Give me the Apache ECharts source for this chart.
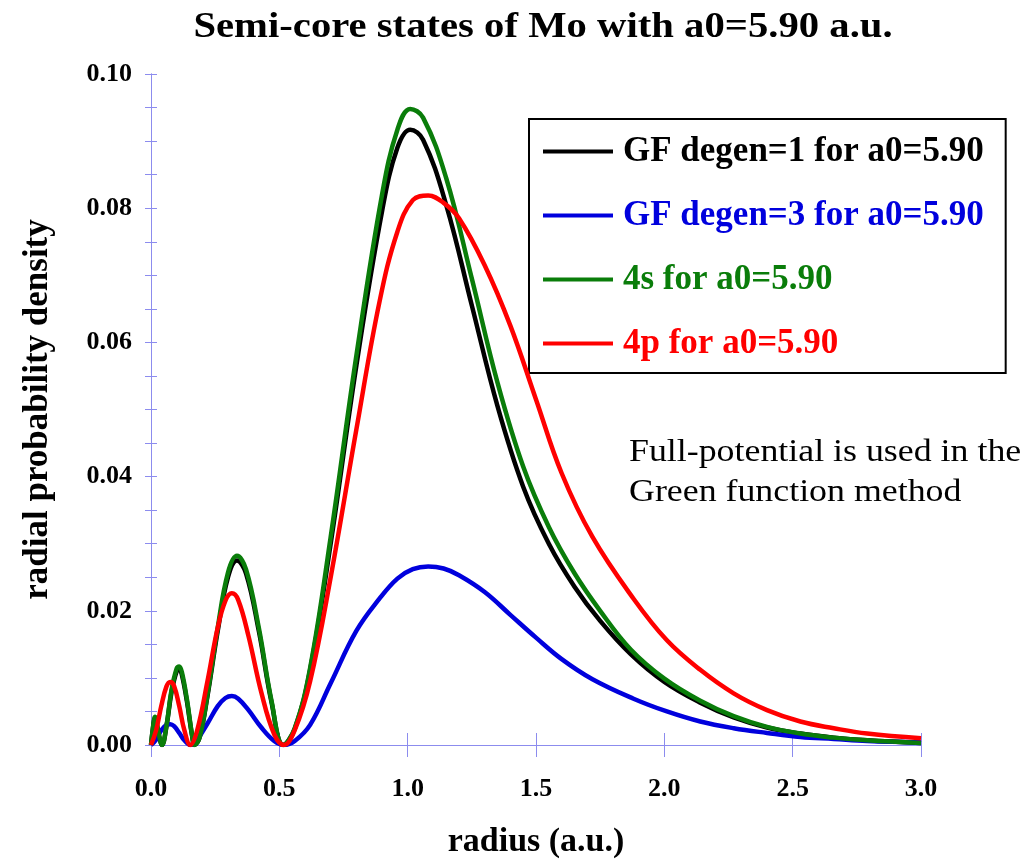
<!DOCTYPE html>
<html>
<head>
<meta charset="utf-8">
<script src="https://cdn.jsdelivr.net/npm/echarts@6/dist/echarts.min.js"></script>
<style>
  html, body { margin: 0; padding: 0; background: #fff; overflow: hidden; }
  #chart { width: 1031px; height: 860px; }
</style>
</head>
<body>
<div id="chart"></div>
<script>
// Radial probability densities of the Mo semi-core states (a0 = 5.90 a.u.)

// radius grid (a.u.) for the s-like curves
const radiusS = [0, 0.01, 0.015, 0.02, 0.03, 0.043, 0.06, 0.08, 0.10, 0.11, 0.12, 0.14, 0.16, 0.17,
  0.19, 0.22, 0.26, 0.30, 0.335, 0.37, 0.42, 0.47, 0.515, 0.56, 0.62, 0.70, 0.80, 0.90, 0.96, 1.01,
  1.06, 1.15, 1.25, 1.35, 1.45, 1.55, 1.65, 1.75, 1.87, 2.0, 2.14, 2.27, 2.4, 2.53, 2.66, 2.79, 3.0];

// GF degen=1
const gfDegen1 = [0, 0.0032, 0.0040, 0.0036, 0.0016, 0, 0.0027, 0.0079, 0.0110, 0.0113, 0.0105, 0.0065,
  0.0014, 0, 0.0012, 0.0073, 0.0170, 0.0250, 0.0275, 0.0256, 0.0170, 0.0063, 0, 0.0024, 0.0112, 0.0300,
  0.0565, 0.0795, 0.0890, 0.0917, 0.0902, 0.0805, 0.0655, 0.0505, 0.0385, 0.0300, 0.0236, 0.0185, 0.0135,
  0.0094, 0.0063, 0.0041, 0.0026, 0.0017, 0.0011, 0.0007, 0.0003];

// 4s
const state4s = [0, 0.0033, 0.0042, 0.0038, 0.0017, 0, 0.0028, 0.0082, 0.0114, 0.0117, 0.0109, 0.0068,
  0.0015, 0, 0.0012, 0.0075, 0.0175, 0.0257, 0.0282, 0.0262, 0.0175, 0.0065, 0, 0.0025, 0.0115, 0.0310,
  0.0580, 0.0820, 0.0917, 0.0948, 0.0935, 0.0845, 0.0695, 0.0540, 0.0415, 0.0325, 0.0256, 0.0200, 0.0142,
  0.0099, 0.0066, 0.0043, 0.0027, 0.0017, 0.0011, 0.0007, 0.0003];

// radius grid (a.u.) for the p-like curves
const radiusP = [0, 0.02, 0.04, 0.06, 0.075, 0.09, 0.11, 0.13, 0.153, 0.18, 0.22, 0.26, 0.29, 0.315,
  0.34, 0.38, 0.43, 0.48, 0.518, 0.56, 0.62, 0.70, 0.80, 0.89, 0.96, 1.02, 1.08, 1.14, 1.2, 1.3, 1.4,
  1.5, 1.6, 1.72, 1.88, 2.01, 2.14, 2.27, 2.4, 2.53, 2.66, 2.79, 3.0];

// GF degen=3
const gfDegen3 = [0, 0.0008, 0.0022, 0.0030, 0.0031, 0.0028, 0.0018, 0.0007, 0, 0.0008, 0.0032, 0.0058,
  0.0070, 0.0073, 0.0069, 0.0052, 0.0026, 0.0006, 0, 0.0006, 0.0030, 0.0092, 0.0170, 0.0218, 0.0248,
  0.0262, 0.0266, 0.0263, 0.0253, 0.0228, 0.0194, 0.0160, 0.0128, 0.0098, 0.0069, 0.0050, 0.0035,
  0.0025, 0.0018, 0.0012, 0.0009, 0.0006, 0.0004];

// 4p
const state4p = [0, 0.0022, 0.0058, 0.0087, 0.0094, 0.0088, 0.0058, 0.0022, 0, 0.0022, 0.0095, 0.0175,
  0.0215, 0.0226, 0.0216, 0.0162, 0.0078, 0.0016, 0, 0.0022, 0.0095, 0.0250, 0.0470, 0.0660, 0.0765,
  0.0812, 0.0819, 0.0808, 0.0785, 0.0715, 0.0625, 0.0515, 0.0405, 0.0310, 0.0218, 0.0156, 0.0112,
  0.0077, 0.0052, 0.0035, 0.0025, 0.0017, 0.0010];

const seriesNames = ['GF degen=1 for a0=5.90', 'GF degen=3 for a0=5.90', '4s for a0=5.90', '4p for a0=5.90'];
const seriesColors = ['#000000', '#0000dd', '#0a7d0a', '#ff0000'];

const FRAME = '#8c8cee';
const SERIF = '"Liberation Serif", "Times New Roman", serif';

function pairs(xs, ys) { return xs.map((x, i) => [x, ys[i]]); }

const curveData = [pairs(radiusS, gfDegen1), pairs(radiusP, gfDegen3), pairs(radiusS, state4s), pairs(radiusP, state4p)];

const chart = echarts.init(document.getElementById('chart'), null, { renderer: 'canvas', width: 1031, height: 860 });

const frameAxisCommon = {
  axisLine: { show: true, lineStyle: { color: FRAME, width: 1 } },
  splitLine: { show: false }
};

chart.setOption({
  animation: false,
  backgroundColor: '#ffffff',
  grid: { left: 151, top: 74, right: 110, bottom: 115, containLabel: false, outerBoundsMode: 'none' },
  graphic: [
    {
      type: 'text', x: 543, y: 28, scaleX: 1.13,
      style: { text: 'Semi-core states of Mo with a0=5.90 a.u.', font: 'bold 36px ' + SERIF,
        fill: '#000', textAlign: 'center', textVerticalAlign: 'middle' }
    },
    {
      type: 'text', x: 629, y: 473, scaleX: 1.12,
      style: { text: 'Full-potential is used in the\nGreen function method', font: '32px ' + SERIF,
        fill: '#000', textAlign: 'left', textVerticalAlign: 'middle', lineHeight: 40 }
    }
  ],
  legend: {
    orient: 'vertical', left: 529, top: 119,
    padding: [15, 22, 12, 14], itemGap: 29,
    itemWidth: 70, itemHeight: 4, icon: 'rect',
    borderColor: '#000', borderWidth: 2, backgroundColor: '#fff',
    selectedMode: false,
    textStyle: { fontFamily: SERIF, fontWeight: 'bold', fontSize: 35, padding: [0, 0, 0, 5] },
    data: seriesNames.map((n, i) => ({ name: n, textStyle: { color: seriesColors[i] } }))
  },
  xAxis: [
    Object.assign({
      type: 'value', position: 'bottom', min: 0, max: 3, interval: 0.5,
      axisTick: { show: true, inside: true, length: 12, lineStyle: { color: FRAME } },
      axisLabel: { formatter: v => v.toFixed(1), color: '#000', fontFamily: SERIF, fontWeight: 'bold', fontSize: 26, margin: 31 },
      name: 'radius (a.u.)', nameLocation: 'middle', nameGap: 80,
      nameTextStyle: { color: '#000', fontFamily: SERIF, fontWeight: 'bold', fontSize: 34 }
    }, frameAxisCommon),
    Object.assign({
      type: 'value', position: 'top', min: 0, max: 3, interval: 0.5,
      axisTick: { show: true, inside: true, length: 12, lineStyle: { color: FRAME } },
      axisLabel: { show: false }
    }, frameAxisCommon)
  ],
  yAxis: [
    Object.assign({
      type: 'value', position: 'left', min: 0, max: 0.1, interval: 0.02,
      axisTick: { show: true, inside: true, length: 6, lineStyle: { color: FRAME } },
      minorTick: { show: true, splitNumber: 4, length: 6, lineStyle: { color: FRAME } },
      axisLabel: { formatter: v => v.toFixed(2), color: '#000', fontFamily: SERIF, fontWeight: 'bold', fontSize: 26, margin: 19 },
      name: 'radial probability density', nameLocation: 'middle', nameGap: 96, nameRotate: 90,
      nameTextStyle: { color: '#000', fontFamily: SERIF, fontWeight: 'bold', fontSize: 35 }
    }, frameAxisCommon),
    Object.assign({
      type: 'value', position: 'right', min: 0, max: 0.1, interval: 0.02,
      axisTick: { show: true, inside: true, length: 6, lineStyle: { color: FRAME } },
      minorTick: { show: true, splitNumber: 4, length: 6, lineStyle: { color: FRAME } },
      axisLabel: { show: false }
    }, frameAxisCommon)
  ],
  series: seriesNames.map((n, i) => ({
    name: n, type: 'line', data: curveData[i],
    showSymbol: false, symbol: 'none', smooth: 0.4,
    lineStyle: { color: seriesColors[i], width: 4.5 },
    itemStyle: { color: seriesColors[i] },
    z: 2 + i
  }))
});
</script>
</body>
</html>
